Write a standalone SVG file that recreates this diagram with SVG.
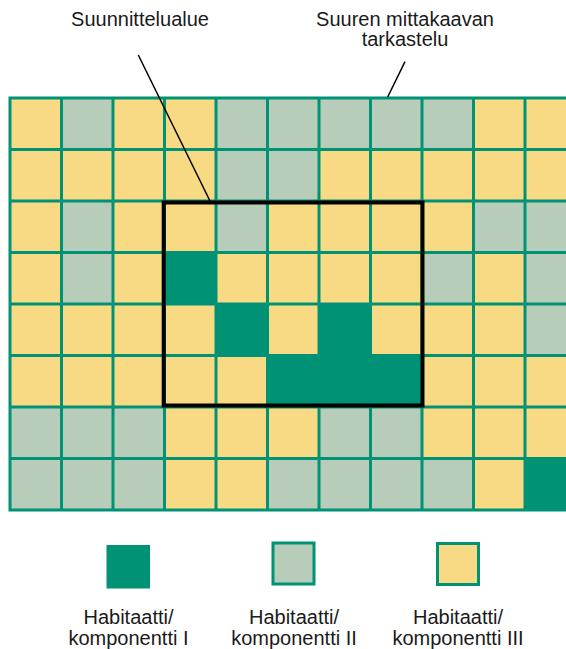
<svg xmlns="http://www.w3.org/2000/svg" width="566" height="649" viewBox="0 0 566 649">
<style>
.y{fill:#f8da84}
.g{fill:#b7cdba}
.d{fill:#009275}
.grid{fill:none;stroke:#009275;stroke-width:3}
.lbl{font-family:"Liberation Sans",Arial,sans-serif;font-size:20px;fill:#1a1a1a;text-anchor:middle}
.lead{stroke:#000;stroke-width:1.5;fill:none}
.leg{stroke:#009275;stroke-width:3}
</style>
<rect width="566" height="649" fill="#fff"/>
<g id="grid">
<rect class="y" x="10" y="98" width="556" height="412"/>
<g id="grey-cells" class="g">
<rect x="61.5" y="98" width="51.5" height="51.5"/>
<rect x="216" y="98" width="51.5" height="51.5"/>
<rect x="267.5" y="98" width="51.5" height="51.5"/>
<rect x="319" y="98" width="51.5" height="51.5"/>
<rect x="370.5" y="98" width="51.5" height="51.5"/>
<rect x="422" y="98" width="51.5" height="51.5"/>
<rect x="216" y="149.5" width="51.5" height="51.5"/>
<rect x="267.5" y="149.5" width="51.5" height="51.5"/>
<rect x="61.5" y="201" width="51.5" height="51.5"/>
<rect x="216" y="201" width="51.5" height="51.5"/>
<rect x="473.5" y="201" width="51.5" height="51.5"/>
<rect x="525" y="201" width="51.5" height="51.5"/>
<rect x="61.5" y="252.5" width="51.5" height="51.5"/>
<rect x="422" y="252.5" width="51.5" height="51.5"/>
<rect x="525" y="252.5" width="51.5" height="51.5"/>
<rect x="525" y="304" width="51.5" height="51.5"/>
<rect x="10" y="407" width="51.5" height="51.5"/>
<rect x="61.5" y="407" width="51.5" height="51.5"/>
<rect x="113" y="407" width="51.5" height="51.5"/>
<rect x="319" y="407" width="51.5" height="51.5"/>
<rect x="370.5" y="407" width="51.5" height="51.5"/>
<rect x="10" y="458.5" width="51.5" height="51.5"/>
<rect x="61.5" y="458.5" width="51.5" height="51.5"/>
<rect x="113" y="458.5" width="51.5" height="51.5"/>
<rect x="267.5" y="458.5" width="51.5" height="51.5"/>
<rect x="319" y="458.5" width="51.5" height="51.5"/>
<rect x="370.5" y="458.5" width="51.5" height="51.5"/>
<rect x="422" y="458.5" width="51.5" height="51.5"/>
</g>
<g id="dark-cells" class="d">
<rect x="164.5" y="252.5" width="51.5" height="51.5"/>
<rect x="216" y="304" width="51.5" height="51.5"/>
<rect x="319" y="304" width="51.5" height="51.5"/>
<rect x="267.5" y="355.5" width="154.5" height="51.5"/>
<rect x="525" y="458.5" width="51.5" height="51.5"/>
</g>
<path class="grid" d="M10 98V510M61.5 98V510M113 98V510M164.5 98V510M216 98V510M267.5 98V510M319 98V510M370.5 98V510M422 98V510M473.5 98V510M525 98V510M8.5 98H566M8.5 149.5H566M8.5 201H566M8.5 252.5H566M8.5 304H566M8.5 355.5H566M8.5 407H566M8.5 458.5H566M8.5 510H566"/>
</g>
<g id="suunnittelualue-frame">
<rect x="163.7" y="202.5" width="258.8" height="203" fill="none" stroke="#000" stroke-width="4"/>
</g>
<g id="connectors">
<line class="lead" x1="138.3" y1="55" x2="210" y2="201"/>
<line class="lead" x1="405" y1="61.7" x2="387.7" y2="97"/>
</g>
<g id="label-suunnittelualue">
<text class="lbl" x="140" y="26">Suunnittelualue</text>
</g>
<g id="label-suuren">
<text class="lbl" x="405" y="26">Suuren mittakaavan</text>
<text class="lbl" x="405" y="46">tarkastelu</text>
</g>
<g id="legend-1">
<rect class="d" x="106.5" y="545" width="43.5" height="43.5"/>
<text class="lbl" x="128.5" y="624">Habitaatti/</text>
<text class="lbl" x="128.5" y="645">komponentti I</text>
</g>
<g id="legend-2">
<rect class="g leg" x="273" y="543" width="41" height="41"/>
<text class="lbl" x="294" y="624">Habitaatti/</text>
<text class="lbl" x="294" y="645">komponentti II</text>
</g>
<g id="legend-3">
<rect class="y leg" x="437.5" y="543.5" width="41" height="41"/>
<text class="lbl" x="458" y="624">Habitaatti/</text>
<text class="lbl" x="458" y="645">komponentti III</text>
</g>
</svg>
